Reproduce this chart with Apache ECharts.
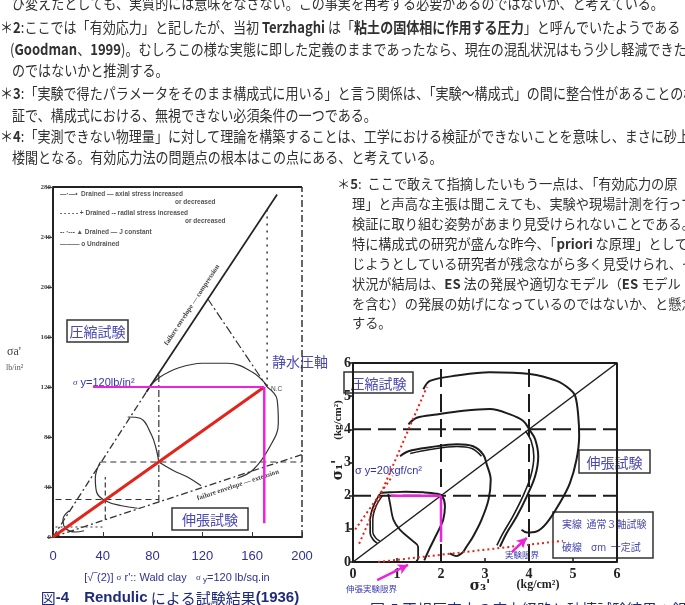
<!DOCTYPE html>
<html><head><meta charset="utf-8">
<script src="https://cdn.jsdelivr.net/npm/echarts@6/dist/echarts.min.js"></script>
<style>html,body{margin:0;padding:0;background:#fff;}#c{width:685px;height:605px;}</style>
</head><body><div id="c"></div>
<script>
// ================= DATA =================
// Left chart (Rendulic 1936): x = sqrt(2)*sigma_r', y = sigma_a'  (lb/in^2)
const leftXTicks = [0, 40, 80, 120, 160, 200];
const leftYTicks = [0, 40, 80, 120, 160, 200, 240, 280];
const hydroAxis = [[0, 0], [169.7, 120]];
const compEnvLow = [[0, 0], [75, 116]];
const compEnvHigh = [[75, 116], [180, 274]];
const extEnvelope = [[0, 0], [200, 66]];
const drainedAxial = [[124, 191], [172, 120]];
const drainedVert = [[172, 262], [172, 120]];
const undrainedComp = [[172, 121], [160, 132], [140, 139], [120, 139], [100, 135], [86, 128], [78, 121]];
const undrainedExt = [[172, 120], [180, 110], [181, 91], [174, 72], [161, 54], [148, 47]];
const midComp = [[60, 96], [70, 95], [79, 82], [83, 70], [85, 60]];
const midExt = [[85, 60], [97, 53], [108, 48], [119, 41]];
const smallComp = [[38, 60], [34, 47], [35, 36], [42, 29], [55, 25], [68, 23]];
const originLoop = [[13, 21], [8, 14], [10, 7], [18, 4], [25, 5]];
const hLine60 = [[38, 60], [200, 60]];
const vLine85 = [[85, 28], [85, 130]];
const hLine30 = [[2, 30], [85, 30]];
const vLine42 = [[42, 14], [42, 48]];
const hLine8 = [[2, 8], [40, 8]];
const magH120 = [[32, 120], [169.7, 120]];
const magV170 = [[169.7, 120], [169.7, 11]];
const leftFrameTop = [[0, 280], [200, 280]];
const leftFrameRight = [[200, 0], [200, 280]];

// Right chart: x = sigma3', y = sigma1'  (kgf/cm^2)
const rightTicks = [0, 1, 2, 3, 4, 5, 6];
const rightFrame = [[0, 6], [6, 6], [6, 0]];
const diagonal = [[0, 0], [6, 6]];
const dashY2 = [[0, 2], [6, 2]];
const dashY4 = [[0, 4], [6, 4]];
const dashX2 = [[2, 0], [2, 6]];
const dashX4 = [[4, 0], [4, 6]];
const pathOuter = [[1.60, 5.21], [1.75, 5.46], [2.36, 5.62], [3.11, 5.72], [4.02, 5.67], [4.63, 5.46], [4.93, 5.21], [5.05, 5.01], [5.12, 4.40], [5.14, 3.80], [5.08, 3.09], [4.93, 2.38], [4.70, 1.78], [4.40, 1.17], [4.17, 0.92], [3.95, 0.89], [3.83, 0.97]];
const path4 = [[1.26, 4.15], [1.45, 4.35], [1.90, 4.45], [2.51, 4.56], [3.11, 4.61], [3.57, 4.45], [3.87, 4.25], [4.02, 3.97], [4.14, 3.70], [4.21, 3.19], [4.14, 2.59], [3.95, 1.98], [3.72, 1.37], [3.49, 0.87], [3.34, 0.46]];
const path4Inner = [[3.92, 3.95], [4.05, 3.65], [4.11, 3.19], [4.04, 2.59], [3.86, 1.98], [3.63, 1.37], [3.41, 0.87], [3.27, 0.50]];
const path3 = [[1.07, 3.19], [1.26, 3.34], [1.75, 3.46], [2.36, 3.55], [2.73, 3.49], [2.96, 3.24], [3.04, 2.94], [3.13, 2.48], [3.08, 1.88], [2.92, 1.27], [2.73, 0.77], [2.58, 0.46], [2.51, 0.31]];
const path3Inner = [[1.30, 3.27], [1.75, 3.39], [2.36, 3.48], [2.70, 3.42], [2.92, 3.19]];
const path3Foot = [[2.20, 0.26], [2.35, 0.18], [2.51, 0.31]];
const path2 = [[0.61, 2.08], [0.84, 2.10], [1.20, 2.12], [1.60, 2.10], [1.90, 2.06], [2.02, 2.00], [2.09, 1.68], [2.05, 1.27], [1.98, 1.05], [1.85, 0.70], [1.72, 0.35], [1.62, 0.05]];
const path2LeftA = [[0.61, 2.05], [0.46, 1.67], [0.39, 1.27], [0.39, 0.87], [0.46, 0.67], [0.55, 0.57]];
const path2LeftB = [[0.67, 2.00], [0.52, 1.67], [0.45, 1.27], [0.45, 0.90], [0.52, 0.72], [0.61, 0.63]];
const path2Mid = [[0.80, 2.05], [0.84, 1.78], [0.92, 1.27], [1.07, 0.97], [1.37, 0.62], [1.48, 0.46], [1.48, 0.11], [1.44, 0.02]];
const redDotA = [[0.14, 0.55], [1.68, 5.28]];
const redDotB = [[0.05, 0.98], [0.90, 2.60]];
const redDotC = [[0.57, 0.0], [4.77, 0.64]];
const magH2 = [[0.86, 2], [2, 2]];
const magV2 = [[2, 2], [2, 0.6]];
const arrow1 = [[0.55, -0.55], [1.25, -0.09]];
const arrow2 = [[3.61, 0.30], [3.95, 0.73]];

// ================= TEXT =================
const topNotes = [
  [12, 3, '{n|び変えたとしても、実質的には意味をなさない。この事実を再考する必要があるのではないか、と考えている。}'],
  [0, 27, '{n|＊}{b|2}{n|:ここでは「有効応力」と記したが、当初 }{b|Terzhaghi}{n| は「}{b|粘土の固体相に作用する圧力}{n|」と呼んでいたようである}'],
  [10, 49, '{n|(}{b|Goodman}{n|、}{b|1999}{n|)。むしろこの様な実態に即した定義のままであったなら、現在の混乱状況はもう少し軽減できた}'],
  [12, 70, '{n|のではないかと推測する。}'],
  [0, 93, '{n|＊}{b|3}{n|:「実験で得たパラメータをそのまま構成式に用いる」と言う関係は、「実験～構成式」の間に整合性があることの検}'],
  [12, 115, '{n|証で、構成式における、無視できない必須条件の一つである。}'],
  [0, 136, '{n|＊}{b|4}{n|:「実測できない物理量」に対して理論を構築することは、工学における検証ができないことを意味し、まさに砂上の}'],
  [12, 157, '{n|楼閣となる。有効応力法の問題点の根本はこの点にある、と考えている。}']
];
const sideNotes = [
  [337, 184, '{n|＊}{b|5}{n|:  ここで敢えて指摘したいもう一点は、「有効応力の原}'],
  [352, 204, '{n|理」と声高な主張は聞こえても、実験や現場計測を行って}'],
  [352, 224, '{n|検証に取り組む姿勢があまり見受けられないことである。}'],
  [352, 244, '{n|特に構成式の研究が盛んな昨今、「}{b|priori}{n| な原理」として信}'],
  [352, 264, '{n|じようとしている研究者が残念ながら多く見受けられ、その}'],
  [352, 284, '{n|状況が結局は、}{b|ES}{n| 法の発展や適切なモデル（}{b|ES}{n| モデル}'],
  [352, 304, '{n|を含む）の発展の妨げになっているのではないか、と懸念}'],
  [352, 323, '{n|する。}']
];
const legendLines = [
  [60, 194, '—·—•  Drained — axial stress increased'],
  [175, 202, 'or decreased'],
  [60, 213, '- - - - - + Drained -- radial stress increased'],
  [185, 221, 'or decreased'],
  [60, 232, '-- ·--- ▲ Drained — J constant'],
  [60, 244, '——— o Undrained']
];

// ================= CHART =================
const BLUE = '#2e3192', PURP = '#4a4ab2', MAG = '#ee22dd', RED = '#e3241b', INK = '#1c1c1c';
const CJK = '"Noto Sans CJK JP", sans-serif';
function L(data, gi, style, extra) {
  return Object.assign({
    type: 'line', xAxisIndex: gi, yAxisIndex: gi, data: data, symbol: 'none', showSymbol: false,
    silent: true, animation: false, lineStyle: style
  }, extra || {});
}
function arrowSeries(d, rot) {
  return L([d[0], { value: d[1], symbol: 'arrow', symbolSize: [8, 10], symbolRotate: rot, itemStyle: { color: MAG } }], 1,
    { color: MAG, width: 2.5 }, { showSymbol: true, clip: false });
}
const gray = { color: '#333', width: 1.2 };
const dashDot = [7, 3, 2, 3];
const series = [
  L(leftFrameTop, 0, { color: '#222', width: 2 }),
  L(leftFrameRight, 0, { color: '#333', width: 1.5, type: dashDot }),
  L(compEnvLow, 0, { color: '#333', width: 1.3, type: dashDot }),
  L(compEnvHigh, 0, { color: '#222', width: 1.7 }),
  L(extEnvelope, 0, { color: '#333', width: 1.3, type: dashDot }),
  L(drainedAxial, 0, { color: '#333', width: 1.2, type: [9, 3, 2, 3] }),
  L(drainedVert, 0, { color: '#333', width: 1.5, type: [2, 5] }),
  L(undrainedComp, 0, gray, { smooth: 0.4 }),
  L(undrainedExt, 0, gray, { smooth: 0.4 }),
  L(midComp, 0, gray, { smooth: 0.4 }),
  L(midExt, 0, gray, { smooth: 0.4 }),
  L(smallComp, 0, gray, { smooth: 0.4 }),
  L(originLoop, 0, gray, { smooth: 0.4 }),
  L(hLine60, 0, { color: '#333', width: 1.2, type: [6, 4] }),
  L(vLine85, 0, { color: '#333', width: 1.2, type: dashDot }),
  L(hLine30, 0, { color: '#333', width: 1.2, type: [6, 4] }),
  L(vLine42, 0, { color: '#333', width: 1.2, type: [5, 3] }),
  L(hLine8, 0, { color: '#333', width: 1.1, type: [2, 3] }),
  L(hydroAxis, 0, { color: RED, width: 3 }),
  L(magH120, 0, { color: MAG, width: 2.2 }),
  L(magV170, 0, { color: MAG, width: 2.5 }),

  L(rightFrame, 1, { color: INK, width: 2 }),
  L(diagonal, 1, { color: INK, width: 1.5 }),
  L(dashY2, 1, { color: INK, width: 2, type: [18, 7] }),
  L(dashY4, 1, { color: INK, width: 2, type: [18, 7] }),
  L(dashX2, 1, { color: INK, width: 2, type: [18, 7] }),
  L(dashX4, 1, { color: INK, width: 2, type: [18, 7] }),
  L(pathOuter, 1, { color: INK, width: 2 }, { smooth: 0.35 }),
  L(path4, 1, { color: INK, width: 2 }, { smooth: 0.35 }),
  L(path4Inner, 1, { color: INK, width: 1.6 }, { smooth: 0.35 }),
  L(path3, 1, { color: INK, width: 2 }, { smooth: 0.35 }),
  L(path3Inner, 1, { color: INK, width: 1.5 }, { smooth: 0.35 }),
  L(path3Foot, 1, { color: INK, width: 1.8 }, { smooth: 0.3 }),
  L(path2, 1, { color: INK, width: 2 }, { smooth: 0.35 }),
  L(path2LeftA, 1, { color: INK, width: 1.7 }, { smooth: 0.35 }),
  L(path2LeftB, 1, { color: INK, width: 1.5 }, { smooth: 0.35 }),
  L(path2Mid, 1, { color: INK, width: 1.8 }, { smooth: 0.35 }),
  L(redDotA, 1, { color: RED, width: 2, type: [2, 3] }),
  L(redDotB, 1, { color: RED, width: 2, type: [2, 3] }),
  L(redDotC, 1, { color: RED, width: 2, type: [2, 3] }, { clip: false }),
  L(magH2, 1, { color: MAG, width: 2.5 }),
  L(magV2, 1, { color: MAG, width: 2.5 }),
  arrowSeries(arrow1, -64),
  arrowSeries(arrow2, -47)
];

function note(x, y, t, size, scaleX, color) {
  const base = { fontSize: size, fontFamily: CJK, fill: color };
  return {
    type: 'text', x: x, y: y, scaleX: scaleX, silent: true,
    style: {
      text: t, fontSize: size, fontFamily: CJK, fill: color, verticalAlign: 'middle', align: 'left',
      rich: { n: base, b: Object.assign({}, base, { fontWeight: 'bold' }) }
    }
  };
}
function txt(x, y, t, opt) {
  return {
    type: 'text', x: x, y: y, rotation: opt.rot || 0, silent: true,
    style: Object.assign({ text: t, verticalAlign: 'middle', align: opt.align || 'left' }, opt.style)
  };
}
function box(x, y, w, h, label, size) {
  return {
    type: 'group', silent: true, children: [
      { type: 'rect', shape: { x: x, y: y, width: w, height: h }, style: { fill: '#fff', stroke: '#333', lineWidth: 1.5 } },
      { type: 'text', x: x + w / 2, y: y + h / 2 + 1, style: { text: label, fontSize: size, fontFamily: CJK, fill: PURP, align: 'center', verticalAlign: 'middle' } }
    ]
  };
}

const graphics = [];
topNotes.forEach(r => graphics.push(note(r[0], r[1], r[2], 15, 0.87, '#303030')));
sideNotes.forEach(r => graphics.push(note(r[0], r[1], r[2], 13.2, 1, '#303030')));
legendLines.forEach(r => graphics.push(txt(r[0], r[1], r[2], { style: { fontSize: 6.5, fontWeight: 'bold', fontFamily: 'Liberation Sans', fill: '#555' } })));
graphics.push(
  txt(192, 305, 'failure envelope — compression', { rot: 0.99, align: 'center', style: { fontSize: 7, fontWeight: 'bold', fontFamily: 'Liberation Serif', fill: '#444' } }),
  txt(238, 485, 'failure envelope — extension', { rot: 0.32, align: 'center', style: { fontSize: 7, fontWeight: 'bold', fontFamily: 'Liberation Serif', fill: '#444' } }),
  txt(271, 389, 'N.C', { style: { fontSize: 6.5, fontFamily: 'Liberation Sans', fill: '#444' } }),
  txt(7, 352, 'σa\'', { style: { fontSize: 12, fontFamily: 'Liberation Serif', fill: '#444' } }),
  txt(6, 368, 'lb/in²', { style: { fontSize: 8, fontFamily: 'Liberation Serif', fill: '#555' } }),
  box(67, 320, 61, 22, '圧縮試験', 14),
  txt(272, 362, '静水圧軸', { style: { fontSize: 14, fontFamily: CJK, fill: PURP } }),
  txt(73, 383, '', { style: { text: '{s|σ} y=120lb/in²', fontSize: 11, fontFamily: 'Liberation Sans', fill: '#3434a8', rich: { s: { fontSize: 9, fontFamily: 'Liberation Serif', fill: '#3434a8', fontStyle: 'italic' } } } }),
  box(172, 508, 76, 22, '伸張試験', 14),
  txt(177, 578, '', { align: 'center', style: { text: '{n|[√‾(2)] }{s|σ}{n| r\':: Wald clay   }{s|σ }{u|y}{n|=120 lb/sq.in}', fontSize: 11, fill: BLUE,
    rich: { n: { fontSize: 11, fontFamily: 'Liberation Sans', fill: BLUE }, s: { fontSize: 9, fontFamily: 'Liberation Serif', fill: BLUE }, u: { fontSize: 8, fontFamily: 'Liberation Sans', fill: BLUE, verticalAlign: 'bottom' } } } }),
  txt(170, 598, '', { align: 'center', style: { text: '{c|図}{b|-4}{c|　}{b|Rendulic}{c| による試験結果}{b|(1936)}', fill: '#1f2a7a',
    rich: { c: { fontSize: 15, fontFamily: CJK, fill: '#1f2a7a' }, b: { fontSize: 15, fontFamily: 'Liberation Sans', fontWeight: 'bold', fill: '#1f2a7a' } } } }),

  // right chart labels
  txt(338, 470, 'σ₁\'', { rot: Math.PI / 2, align: 'center', style: { fontSize: 14, fontWeight: 'bold', fontFamily: 'DejaVu Serif', fill: '#222' } }),
  txt(338, 420, '(kg/cm²)', { rot: Math.PI / 2, align: 'center', style: { fontSize: 11, fontWeight: 'bold', fontFamily: 'Liberation Serif', fill: '#222' } }),
  txt(480, 586, 'σ₃\'', { align: 'center', style: { fontSize: 14, fontWeight: 'bold', fontFamily: 'DejaVu Serif', fill: '#222' } }),
  txt(538, 585, '(kg/cm²)', { align: 'center', style: { fontSize: 12, fontWeight: 'bold', fontFamily: 'Liberation Serif', fill: '#222' } }),
  box(344, 372, 69, 21, '圧縮試験', 14),
  box(579, 450, 71, 23, '伸張試験', 14),
  { type: 'rect', silent: true, shape: { x: 553, y: 512, width: 100, height: 46 }, style: { fill: '#fff', stroke: '#333', lineWidth: 1.5 } },
  txt(562, 524, '実線  通常３軸試験', { style: { fontSize: 10, fontFamily: CJK, fill: PURP } }),
  txt(562, 547, '破線    σm  一定試', { style: { fontSize: 10, fontFamily: CJK, fill: PURP } }),
  txt(355, 471, 'σ y=20kgf/cn²', { style: { fontSize: 11, fontFamily: 'Liberation Sans', fill: '#3434a8' } }),
  txt(346, 589, '伸張実験限界', { style: { fontSize: 8.5, fontFamily: CJK, fill: '#3a3ab0' } }),
  txt(505, 555, '実験限界', { style: { fontSize: 8.5, fontFamily: CJK, fill: '#3a3ab0' } }),
  txt(370, 609, '図-5 正規圧密土の応力経路と破壊試験結果：鍋島 (1965)', { style: { fontSize: 15, fontFamily: CJK, fill: '#1f2a7a' } })
);

const chart = echarts.init(document.getElementById('c'), null, { renderer: 'canvas' });
chart.setOption({
  backgroundColor: '#ffffff',
  animation: false,
  grid: [
    { left: 53, top: 187, width: 249, height: 350 },
    { left: 353, top: 363, width: 264, height: 199 }
  ],
  xAxis: [
    { type: 'value', gridIndex: 0, min: leftXTicks[0], max: leftXTicks[leftXTicks.length - 1], interval: leftXTicks[1] - leftXTicks[0],
      axisLine: { show: true, onZero: false, lineStyle: { color: '#222', width: 2 } },
      axisTick: { show: true, inside: true, length: 5, lineStyle: { color: '#333' } },
      axisLabel: { color: BLUE, fontSize: 13, margin: 13, fontFamily: 'Liberation Sans' },
      splitLine: { show: false } },
    { type: 'value', gridIndex: 1, min: rightTicks[0], max: rightTicks[rightTicks.length - 1], interval: 1,
      axisLine: { show: true, onZero: false, lineStyle: { color: INK, width: 2 } },
      axisTick: { show: true, inside: true, length: 4, lineStyle: { color: INK, width: 1.5 } },
      axisLabel: { color: '#222', fontSize: 14, fontWeight: 'bold', margin: 5, fontFamily: 'Liberation Serif' },
      splitLine: { show: false } }
  ],
  yAxis: [
    { type: 'value', gridIndex: 0, min: leftYTicks[0], max: leftYTicks[leftYTicks.length - 1], interval: leftYTicks[1] - leftYTicks[0],
      axisLine: { show: true, onZero: false, lineStyle: { color: '#222', width: 2 } },
      axisTick: { show: true, length: 6, lineStyle: { color: '#444', width: 1.2 } },
      axisLabel: { color: '#444', fontSize: 7, fontWeight: 'bold', margin: 2, fontFamily: 'Liberation Serif' },
      splitLine: { show: false } },
    { type: 'value', gridIndex: 1, min: rightTicks[0], max: rightTicks[rightTicks.length - 1], interval: 1,
      axisLine: { show: true, onZero: false, lineStyle: { color: INK, width: 2 } },
      axisTick: { show: true, length: 4, lineStyle: { color: INK, width: 1.5 } },
      axisLabel: { color: '#222', fontSize: 14, fontWeight: 'bold', margin: 2, fontFamily: 'Liberation Serif' },
      splitLine: { show: false } }
  ],
  series: series,
  graphic: { elements: graphics }
});
</script></body></html>
